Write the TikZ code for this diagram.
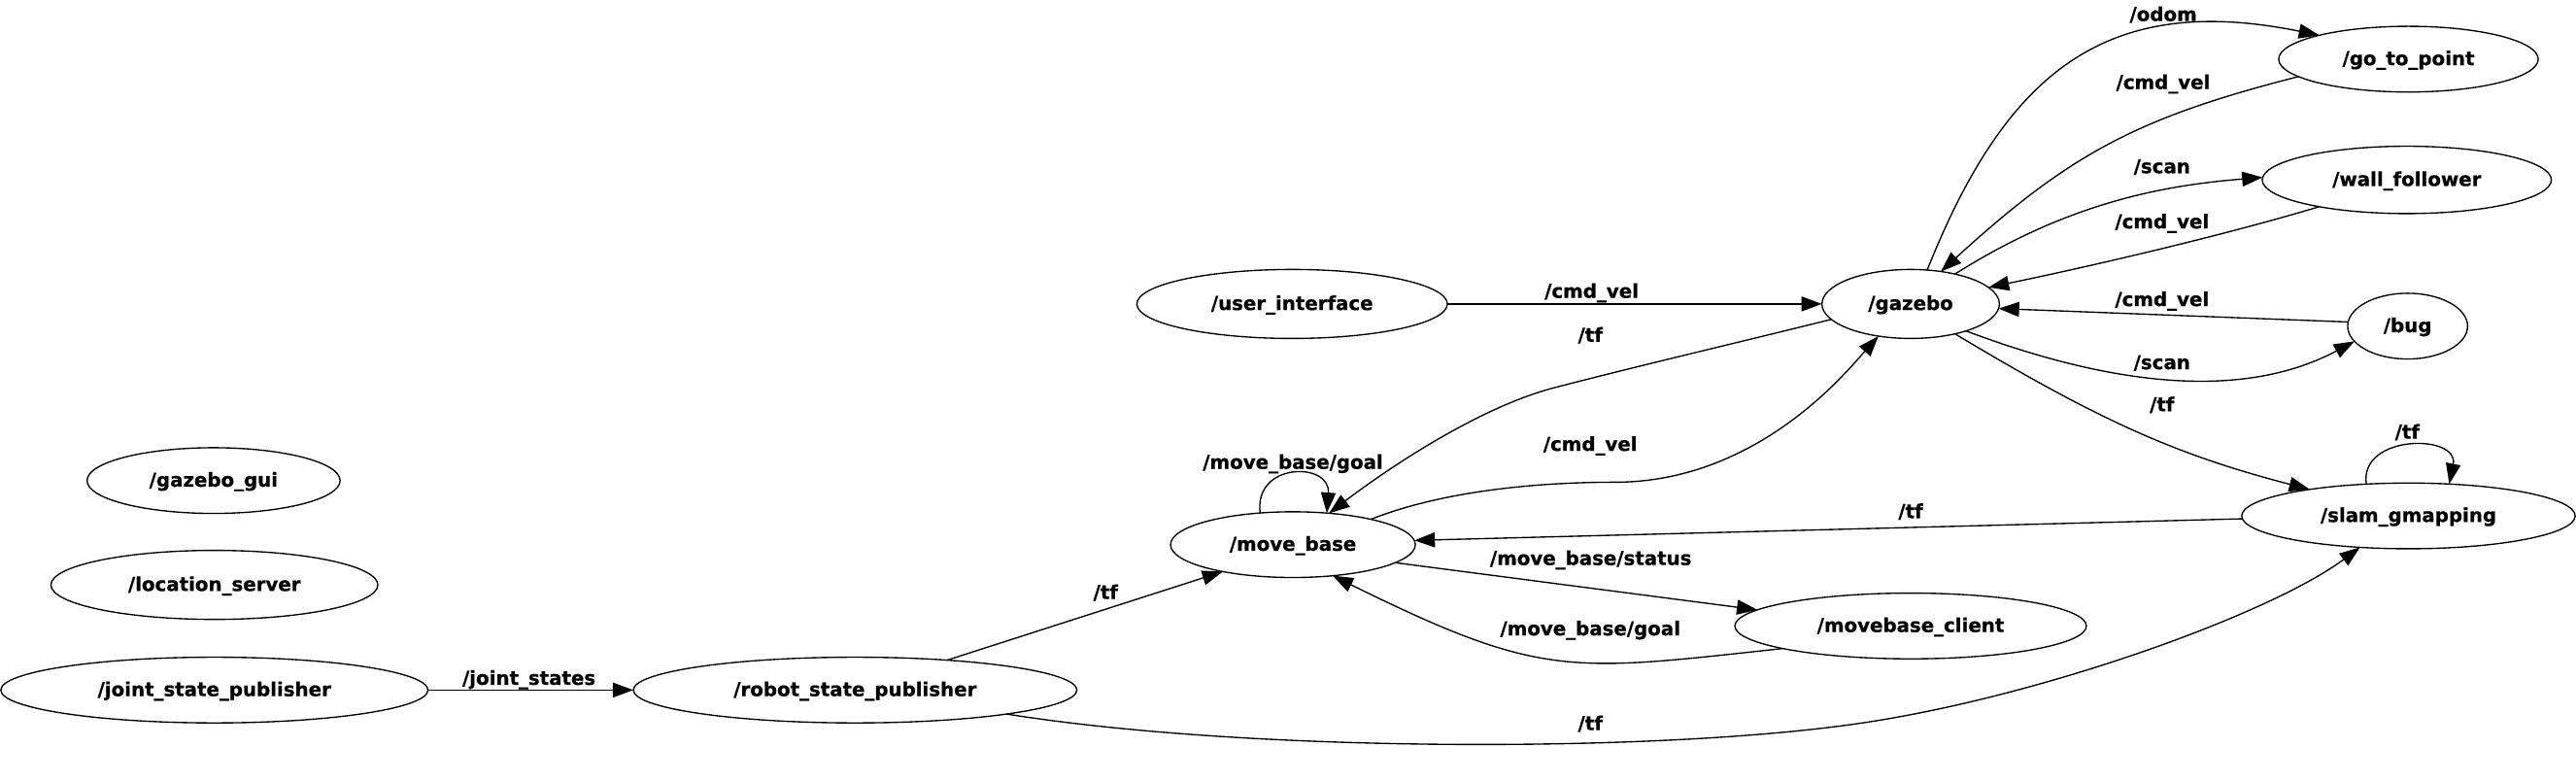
\documentclass[tikz,border=0pt]{standalone}
\usepackage{fontspec}
\setmainfont{DejaVu Sans}[BoldFeatures={FakeBold=0.6}]
\usetikzlibrary{shapes.geometric,arrows.meta}
\begin{document}
\begin{tikzpicture}[x=1pt,y=-1pt,
  nd/.style={draw,ellipse,line width=0.8pt,inner sep=0pt,outer sep=0pt,minimum height=40pt,text height=7.4pt,text depth=0pt,font=\fontsize{11.7}{14}\selectfont\bfseries},
  lb/.style={anchor=base,inner sep=0pt,font=\fontsize{11.7}{14}\selectfont\bfseries},
  ed/.style={line width=0.8pt,-{Triangle[length=12.5pt,width=9pt]}}]
\useasboundingbox[fill=white] (0,0) rectangle (1568,474.8);
% nodes
\node[nd,minimum width=154pt] (ggui) at (130,292.5) {/gazebo\_gui};
\node[nd,minimum width=199pt,minimum height=42pt] (ls) at (130.5,356) {/location\_server};
\node[nd,minimum width=260pt] (jsp) at (130.5,420) {/joint\_state\_publisher};
\node[nd,minimum width=270pt] (rsp) at (520.5,420) {/robot\_state\_publisher};
\node[nd,minimum width=149pt] (mb) at (787,331.5) {/move\_base};
\node[nd,minimum width=214pt] (mbc) at (1163,381) {/movebase\_client};
\node[nd,minimum width=189pt,minimum height=42pt] (ui) at (786.5,185) {/user\_interface};
\node[nd,minimum width=108pt,minimum height=42pt] (gz) at (1163,185) {/gazebo};
\node[nd,minimum width=158pt] (gtp) at (1466,36) {/go\_to\_point};
\node[nd,minimum width=176pt,minimum height=41pt] (wf) at (1465,109.5) {/wall\_follower};
\node[nd,minimum width=73pt] (bug) at (1465.5,198.5) {/bug};
\node[nd,minimum width=203pt] (slam) at (1466,314) {/slam\_gmapping};
% edges
\draw[ed] (jsp.east) -- (rsp.west);
\draw[ed] (rsp.18.6) -- (mb.201.5);
\draw[ed] (rsp.351.8) .. controls (760,458) and (1000,458) .. (1123,441.5) .. controls (1234,427) and (1380,375) .. (slam.213.3);
\draw[ed] (mb.136.4) .. controls (763,281) and (810,281) .. (mb.43.6);
\draw[ed] (gz.191.8) .. controls (1060,208) and (1000,222) .. (946,236) .. controls (900,248) and (845,285) .. (mb.41);
\draw[ed] (mb.18.3) .. controls (880,298) and (940,293.5) .. (982,293.5) .. controls (1070,294) and (1125,225) .. (gz.225.7);
\draw[ed] (ui.east) -- (gz.west);
\draw[ed] (gz.64.5) .. controls (1221.4,43) and (1282.5,-4.8) .. (gtp.165.7);
\draw[ed] (gtp.189.2) .. controls (1301,71.6) and (1260,93.5) .. (gz.47);
\draw[ed] (gz.34.2) .. controls (1259.2,123) and (1317.6,112.8) .. (wf.179);
\draw[ed] (wf.197.5) .. controls (1352.7,143.5) and (1272.9,162) .. (gz.12);
\draw[ed] (bug.176) -- (gz.357.7);
\draw[ed] (gz.334.5) .. controls (1281.3,233.3) and (1363.1,245) .. (bug.196.8);
\draw[ed] (gz.326.4) .. controls (1277.2,255.6) and (1324.3,276.8) .. (slam.165.7);
\draw[ed] (slam.143.9) .. controls (1436,264) and (1497,264) .. (slam.38.2);
\draw[ed] (slam.181.3) -- (mb.2);
\draw[ed] (mb.350.1) -- (mbc.174.1);
\draw[ed] (mbc.190.9) .. controls (955.7,408.7) and (939,413.5) .. (mb.322.4);
% labels
\node[lb] (l1) at (322,416.8) {/joint\_states};
\node[lb] (l2) at (673,364.6) {/tf};
\node[lb] (l3) at (968,444.4) {/tf};
\node[lb] (l4) at (787,285.4) {/move\_base/goal};
\node[lb] (l5) at (968,208) {/tf};
\node[lb] (l6) at (968,274.4) {/cmd\_vel};
\node[lb] (l7) at (968.8,181.3) {/cmd\_vel};
\node[lb] (l8) at (1316.8,12.8) {/odom};
\node[lb] (l9) at (1316.7,54.2) {/cmd\_vel};
\node[lb] (l10) at (1316,105.4) {/scan};
\node[lb] (l11) at (1316,139) {/cmd\_vel};
\node[lb] (l12) at (1316,186.3) {/cmd\_vel};
\node[lb] (l13) at (1316,224.7) {/scan};
\node[lb] (l14) at (1316,250.3) {/tf};
\node[lb] (l15) at (1465.3,267) {/tf};
\node[lb] (l16) at (1163,315.3) {/tf};
\node[lb] (l17) at (968.3,343.9) {/move\_base/status};
\node[lb] (l18) at (968,386.7) {/move\_base/goal};
\end{tikzpicture}
\end{document}
